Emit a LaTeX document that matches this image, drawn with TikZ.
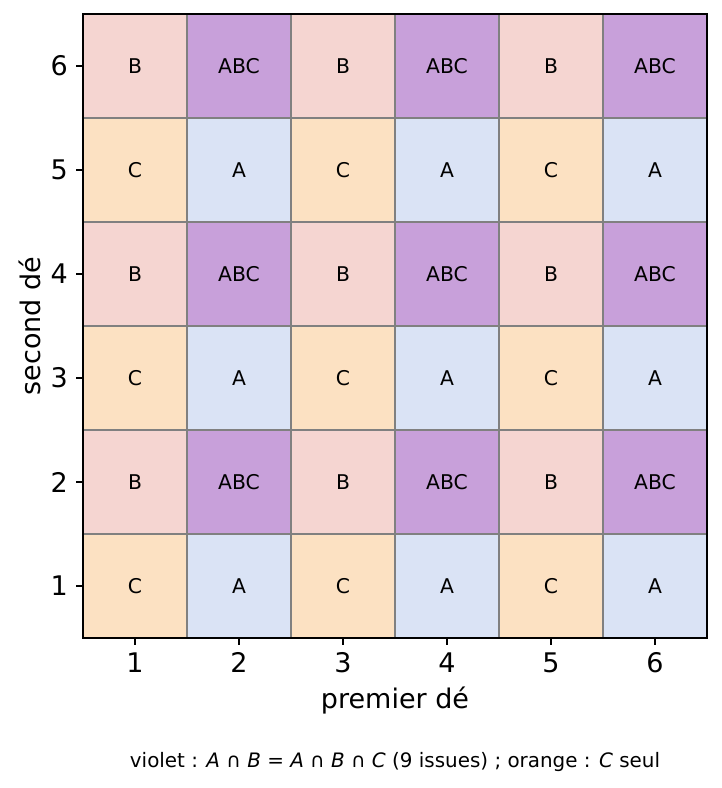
\documentclass[tikz,border=0pt]{standalone}
\usepackage{fontspec}
\setmainfont{DejaVu Sans}
\definecolor{pinkB}{HTML}{F5D5D1}
\definecolor{violetABC}{HTML}{C8A0DA}
\definecolor{orangeC}{HTML}{FCE1C2}
\definecolor{blueA}{HTML}{DAE3F5}
\definecolor{gridgray}{HTML}{808080}
\begin{document}
\begin{tikzpicture}[x=1pt,y=-1pt,
  cell/.style={draw=gridgray, line width=1.3pt, minimum size=104pt, inner sep=0pt,
    font=\fontsize{20.3}{24}\selectfont},
  cB/.style={cell, fill=pinkB},
  cABC/.style={cell, fill=violetABC},
  cC/.style={cell, fill=orangeC},
  cA/.style={cell, fill=blueA},
  ticklab/.style={inner sep=0pt, font=\fontsize{27}{31}\selectfont},
  axlab/.style={inner sep=0pt, font=\fontsize{27}{31}\selectfont},
  tick/.style={line width=1.5pt, black}]
\useasboundingbox[fill=white] (0,0) rectangle (722,788);
\foreach \r in {1,...,6}{
  \foreach \c in {1,...,6}{
    \pgfmathsetmacro{\xx}{83+104*(\c-0.5)}
    \pgfmathsetmacro{\yy}{638-104*(\r-0.5)}
    \pgfmathtruncatemacro{\re}{mod(\r,2)}
    \pgfmathtruncatemacro{\ce}{mod(\c,2)}
    \ifnum\re=0
      \ifnum\ce=1
        \node[cB] (cell-\c-\r) at (\xx,\yy) {B};
      \else
        \node[cABC] (cell-\c-\r) at (\xx,\yy) {ABC};
      \fi
    \else
      \ifnum\ce=1
        \node[cC] (cell-\c-\r) at (\xx,\yy) {C};
      \else
        \node[cA] (cell-\c-\r) at (\xx,\yy) {A};
      \fi
    \fi
  }
}
\draw[line width=1.6pt, black] (83,14) rectangle (707,638);
\foreach \r in {1,...,6}{
  \pgfmathsetmacro{\yy}{638-104*(\r-0.5)}
  \draw[tick] (83,\yy) -- (76,\yy);
  \node[ticklab, anchor=east] (ylab-\r) at (68,\yy) {\r};
}
\foreach \c in {1,...,6}{
  \pgfmathsetmacro{\xx}{83+104*(\c-0.5)}
  \draw[tick] (\xx,638) -- (\xx,645);
  \node[ticklab, anchor=base] (xlab-\c) at (\xx,672) {\c};
}
\node[axlab, anchor=base] (xaxis) at (395,708) {premier dé};
\node[axlab, anchor=base, rotate=90] (yaxis) at (40,326) {second dé};
\node[inner sep=0pt, anchor=base, font=\fontsize{19.9}{23}\selectfont] (caption) at (395,767)
  {violet : \textit{A} ∩ \textit{B} = \textit{A} ∩ \textit{B} ∩ \textit{C} (9 issues) ; orange : \textit{C} seul};
\end{tikzpicture}
\end{document}
